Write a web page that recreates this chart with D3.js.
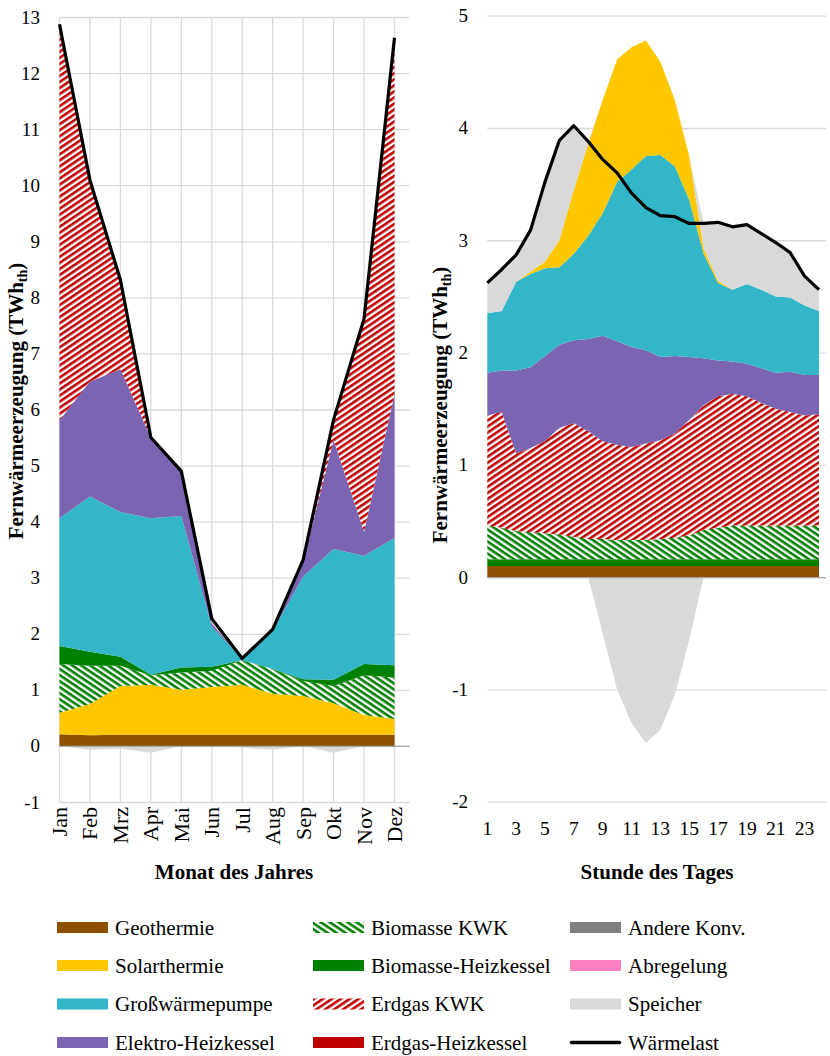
<!DOCTYPE html>
<html>
<head>
<meta charset="utf-8">
<script src="https://cdn.jsdelivr.net/npm/d3@7"></script>
<style>
  html, body { margin: 0; padding: 0; background: #fff; }
  svg { display: block; font-family: "Liberation Serif", "Times New Roman", serif; }
</style>
</head>
<body>
<svg id="chart" width="830" height="1056"></svg>
<script>
// ---- Monthly district heat generation (TWh_th) ----
const months = ["Jan", "Feb", "Mrz", "Apr", "Mai", "Jun", "Jul", "Aug", "Sep", "Okt", "Nov", "Dez"];
const geoM      = [0.21, 0.19, 0.20, 0.20, 0.20, 0.20, 0.20, 0.20, 0.20, 0.20, 0.20, 0.20];
const solarM    = [0.38, 0.56, 0.87, 0.89, 0.80, 0.85, 0.89, 0.73, 0.69, 0.56, 0.35, 0.28];
const bioKwkM   = [0.87, 0.68, 0.36, 0.17, 0.31, 0.29, 0.44, 0.44, 0.27, 0.31, 0.71, 0.74];
const bioHkM    = [0.32, 0.25, 0.16, 0.01, 0.09, 0.07, 0.00, 0.00, 0.03, 0.11, 0.20, 0.22];
const gwpM      = [2.28, 2.77, 2.58, 2.79, 2.70, 0.72, 0.02, 0.68, 1.83, 2.33, 1.93, 2.27];
const elektroM  = [1.75, 2.05, 2.55, 1.44, 0.79, 0.06, 0.00, 0.02, 0.26, 1.95, 0.43, 2.57];
const gasKwkM   = [7.06, 3.59, 1.59, 0.04, 0.01, 0.00, 0.01, 0.03, 0.04, 0.36, 3.80, 6.35];
const gasHkM    = [0, 0, 0, 0, 0, 0, 0, 0, 0, 0, 0, 0];
const andereM   = [0, 0, 0, 0, 0, 0, 0, 0, 0, 0, 0, 0];
const abregM    = [0, 0, 0, 0, 0, 0, 0, 0, 0, 0, 0, 0];
const speicherM = [0.00, -0.07, -0.05, -0.12, 0.00, 0.08, -0.03, -0.07, 0.00, -0.12, 0.00, 0.00];
const lastM     = [12.87, 10.09, 8.31, 5.50, 4.90, 2.27, 1.56, 2.08, 3.32, 5.82, 7.62, 12.63];
const ticksM    = [-1, 0, 1, 2, 3, 4, 5, 6, 7, 8, 9, 10, 11, 12, 13];

// ---- Hourly district heat generation on a sample day ----
const hours     = d3.range(1, 25);
const hourTicks = [1, 3, 5, 7, 9, 11, 13, 15, 17, 19, 21, 23];
const geoH      = [0.10, 0.10, 0.10, 0.10, 0.10, 0.10, 0.10, 0.10, 0.10, 0.10, 0.10, 0.10, 0.10, 0.10, 0.10, 0.10, 0.10, 0.10, 0.10, 0.10, 0.10, 0.10, 0.10, 0.10];
const bioHkH    = [0.06, 0.06, 0.06, 0.06, 0.06, 0.06, 0.06, 0.06, 0.06, 0.06, 0.06, 0.06, 0.06, 0.06, 0.06, 0.06, 0.06, 0.06, 0.06, 0.06, 0.06, 0.06, 0.06, 0.06];
const bioKwkH   = [0.30, 0.28, 0.25, 0.24, 0.23, 0.22, 0.20, 0.18, 0.18, 0.17, 0.17, 0.17, 0.18, 0.19, 0.21, 0.26, 0.28, 0.30, 0.30, 0.30, 0.30, 0.30, 0.30, 0.30];
const gasKwkH   = [0.98, 1.03, 0.69, 0.75, 0.82, 0.95, 1.01, 0.96, 0.87, 0.85, 0.83, 0.86, 0.88, 0.93, 1.03, 1.11, 1.17, 1.17, 1.15, 1.09, 1.04, 1.01, 0.98, 0.99];
const elektroH  = [0.38, 0.37, 0.74, 0.72, 0.76, 0.74, 0.74, 0.82, 0.94, 0.92, 0.89, 0.83, 0.74, 0.69, 0.56, 0.42, 0.32, 0.29, 0.29, 0.31, 0.32, 0.36, 0.36, 0.35];
const gwpH      = [0.53, 0.53, 0.79, 0.83, 0.78, 0.69, 0.77, 0.92, 1.09, 1.42, 1.58, 1.73, 1.80, 1.69, 1.40, 0.93, 0.69, 0.64, 0.71, 0.70, 0.68, 0.66, 0.62, 0.57];
const solarH    = [0.00, 0.00, 0.00, 0.02, 0.06, 0.24, 0.57, 0.82, 1.01, 1.09, 1.09, 1.03, 0.83, 0.59, 0.39, 0.05, 0.02, 0.00, 0.00, 0.00, 0.00, 0.00, 0.00, 0.00];
const gasHkH    = [0, 0, 0, 0, 0, 0, 0, 0, 0, 0, 0, 0, 0, 0, 0, 0, 0, 0, 0, 0, 0, 0, 0, 0];
const andereH   = [0, 0, 0, 0, 0, 0, 0, 0, 0, 0, 0, 0, 0, 0, 0, 0, 0, 0, 0, 0, 0, 0, 0, 0];
const abregH    = [0, 0, 0, 0, 0, 0, 0, 0, 0, 0, 0, 0, 0, 0, 0, 0, 0, 0, 0, 0, 0, 0, 0, 0];
const speicherH = [0.27, 0.37, 0.24, 0.37, 0.71, 0.89, 0.57, 0.02, -0.50, -1.00, -1.30, -1.48, -1.36, -1.05, -0.56, 0.22, 0.52, 0.56, 0.53, 0.50, 0.48, 0.40, 0.26, 0.19];
const lastH     = [2.62, 2.74, 2.87, 3.09, 3.52, 3.89, 4.02, 3.88, 3.72, 3.60, 3.42, 3.29, 3.22, 3.21, 3.15, 3.15, 3.16, 3.12, 3.14, 3.06, 2.98, 2.89, 2.68, 2.56];
const ticksH    = [-2, -1, 0, 1, 2, 3, 4, 5];

// ---- Legend entries (three columns, four rows) ----
const legendKeys   = ["geo", "solar", "gwp", "elektro", "bioKwk", "bioHk", "gasKwk", "gasHk", "andere", "abreg", "speicher", "last"];
const legendLabels = ["Geothermie", "Solarthermie", "Großwärmepumpe", "Elektro-Heizkessel",
                      "Biomasse KWK", "Biomasse-Heizkessel", "Erdgas KWK", "Erdgas-Heizkessel",
                      "Andere Konv.", "Abregelung", "Speicher", "Wärmelast"];

const fills = {
  geo: "#8c5000", solar: "#ffc700", gwp: "#33b6c8", elektro: "#7b65b3",
  bioKwk: "url(#hatchGreen)", bioHk: "#008000", gasKwk: "url(#hatchRed)", gasHk: "#c00000",
  andere: "#808080", abreg: "#ff80c0", speicher: "#d9d9d9"
};

const svg = d3.select("#chart");

// hatch patterns for the CHP series
const defs = svg.append("defs");
function hatch(id, color, angle) {
  const p = defs.append("pattern")
    .attr("id", id).attr("patternUnits", "userSpaceOnUse")
    .attr("width", 8).attr("height", 5)
    .attr("patternTransform", `rotate(${angle})`);
  p.append("rect").attr("width", 8).attr("height", 5).attr("fill", "#fff");
  p.append("rect").attr("width", 8).attr("height", 2.6).attr("fill", color);
}
hatch("hatchRed", "#c00000", -34);
hatch("hatchGreen", "#008000", 34);

function drawPanel(o) {
  const g = svg.append("g");
  const [xl, xr] = o.gridX;

  // horizontal gridlines
  g.selectAll(".hg").data(o.yTicks).join("line")
    .attr("x1", xl).attr("x2", xr)
    .attr("y1", d => o.y(d) + 0.5).attr("y2", d => o.y(d) + 0.5)
    .attr("stroke", "#d9d9d9").attr("stroke-width", 1.3);

  // vertical gridlines (monthly panel only)
  if (o.vGrid) {
    g.selectAll(".vg").data(o.cats).join("line")
      .attr("x1", d => o.x(d)).attr("x2", d => o.x(d))
      .attr("y1", o.y(o.yTicks[o.yTicks.length - 1])).attr("y2", o.y(o.yTicks[0]))
      .attr("stroke", "#d9d9d9").attr("stroke-width", 1.3);
  }

  // positive stack
  const table = o.cats.map((c, i) => {
    const row = { cat: c };
    o.order.forEach(k => { row[k] = k === "speicher" ? Math.max(0, o.series.speicher[i]) : o.series[k][i]; });
    return row;
  });
  const stacked = d3.stack().keys(o.order)(table);
  const area = d3.area()
    .x(d => o.x(d.data.cat))
    .y0(d => o.y(d[0]))
    .y1(d => o.y(d[1]));
  g.selectAll(".layer").data(stacked).join("path")
    .attr("d", area)
    .attr("fill", d => fills[d.key]);

  // storage charging drawn below zero
  const neg = o.cats.map((c, i) => ({ cat: c, v: Math.min(0, o.series.speicher[i]) }));
  g.append("path")
    .attr("d", d3.area().x(d => o.x(d.cat)).y0(o.y(0)).y1(d => o.y(d.v))(neg))
    .attr("fill", fills.speicher);

  // zero axis line
  g.append("line")
    .attr("x1", xl).attr("x2", xr)
    .attr("y1", o.y(0) + 0.5).attr("y2", o.y(0) + 0.5)
    .attr("stroke", "#a6a6a6").attr("stroke-width", 1.3);

  // heat load line
  g.append("path")
    .datum(o.cats.map((c, i) => ({ cat: c, v: o.load[i] })))
    .attr("d", d3.line().x(d => o.x(d.cat)).y(d => o.y(d.v)))
    .attr("fill", "none").attr("stroke", "#000").attr("stroke-width", 3.2)
    .attr("stroke-linejoin", "round");

  // y tick labels
  g.selectAll(".yl").data(o.yTicks).join("text")
    .attr("x", o.yLabelX).attr("y", d => o.y(d) + 6.5)
    .attr("text-anchor", "end").attr("font-size", 19).attr("fill", "#000")
    .text(d => d);

  // y axis title
  const yt = g.append("text")
    .attr("transform", `translate(${o.yTitle[0]},${o.yTitle[1]}) rotate(-90)`)
    .attr("text-anchor", "middle").attr("font-size", 21).attr("font-weight", "bold");
  yt.append("tspan").text("Fernwärmeerzeugung (TWh");
  yt.append("tspan").attr("font-size", 14).attr("dy", 4).text("th");
  yt.append("tspan").attr("dy", -4).text(")");

  // x axis title
  g.append("text")
    .attr("x", o.xTitle[0]).attr("y", o.xTitle[1])
    .attr("text-anchor", "middle").attr("font-size", 21).attr("font-weight", "bold")
    .text(o.xTitleText);

  return g;
}

// ---- left panel: months ----
const xM = d3.scalePoint().domain(months).range([59.5, 394.5]);
const yM = d3.scaleLinear().domain([-1, 13]).range([802, 17]);
const gM = drawPanel({
  cats: months, x: xM, y: yM, yTicks: ticksM, gridX: [59.5, 409.5], vGrid: true,
  order: ["geo", "solar", "bioKwk", "bioHk", "gwp", "elektro", "gasKwk", "gasHk", "andere", "abreg", "speicher"],
  series: { geo: geoM, solar: solarM, bioKwk: bioKwkM, bioHk: bioHkM, gwp: gwpM, elektro: elektroM,
            gasKwk: gasKwkM, gasHk: gasHkM, andere: andereM, abreg: abregM, speicher: speicherM },
  load: lastM, yLabelX: 40, yTitle: [23, 401], xTitle: [234, 879], xTitleText: "Monat des Jahres"
});
gM.selectAll(".ml").data(months).join("text")
  .attr("transform", d => `translate(${xM(d) + 7.5},807) rotate(-90)`)
  .attr("text-anchor", "end").attr("font-size", 22)
  .text(d => d);

// ---- right panel: hours ----
const xH = d3.scaleLinear().domain([1, 24]).range([487.3, 819]);
const yH = d3.scaleLinear().domain([-2, 5]).range([801.7, 15.7]);
const gH = drawPanel({
  cats: hours, x: xH, y: yH, yTicks: ticksH, gridX: [487.3, 826], vGrid: false,
  order: ["geo", "bioHk", "bioKwk", "gasKwk", "elektro", "gwp", "solar", "gasHk", "andere", "abreg", "speicher"],
  series: { geo: geoH, bioHk: bioHkH, bioKwk: bioKwkH, gasKwk: gasKwkH, elektro: elektroH, gwp: gwpH,
            solar: solarH, gasHk: gasHkH, andere: andereH, abreg: abregH, speicher: speicherH },
  load: lastH, yLabelX: 468, yTitle: [447, 405], xTitle: [657, 879], xTitleText: "Stunde des Tages"
});
gH.selectAll(".hl").data(hourTicks).join("text")
  .attr("x", d => xH(d)).attr("y", 835)
  .attr("text-anchor", "middle").attr("font-size", 19.5)
  .text(d => d);

// ---- legend ----
const colX = [57, 313, 570];
const rowY = [927.5, 965.5, 1004, 1042.5];
const leg = svg.append("g").selectAll("g").data(legendKeys).join("g")
  .attr("transform", (d, i) => `translate(${colX[Math.floor(i / 4)]},${rowY[i % 4]})`);
leg.each(function (k) {
  const s = d3.select(this);
  if (k === "last") {
    s.append("line").attr("x1", 1.5).attr("x2", 49.5).attr("y1", 0).attr("y2", 0)
      .attr("stroke", "#000").attr("stroke-width", 3.6).attr("stroke-linecap", "round");
  } else {
    s.append("rect").attr("x", 0).attr("y", -5.5).attr("width", 51).attr("height", 11)
      .attr("fill", fills[k]);
  }
});
leg.append("text")
  .attr("x", 58).attr("y", 7).attr("font-size", 21)
  .text((d, i) => legendLabels[i]);
</script>
</body>
</html>
